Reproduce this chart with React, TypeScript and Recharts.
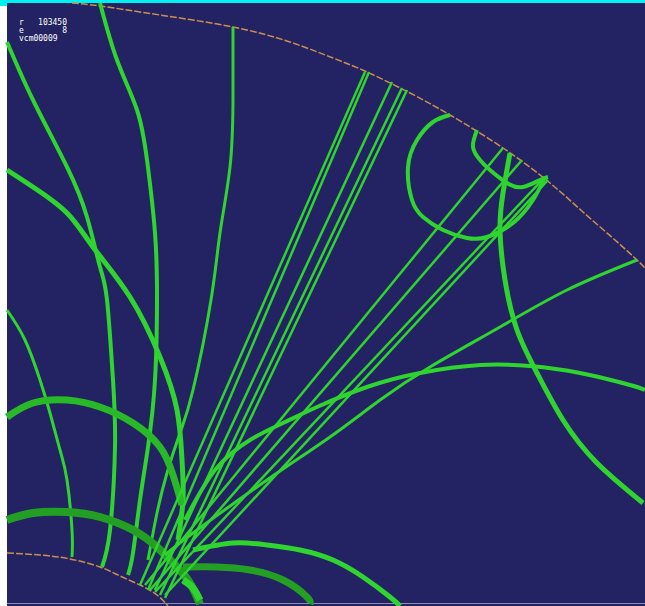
import React from 'react';
import { LineChart, Line, XAxis, YAxis } from 'recharts';

type Pt = { x: number; y: number };

// event header
const headerLines: string[][] = [
  ['r', '103450'],
  ['e', '8'],
  ['vcm00009', ''],
];

// detector boundaries (screen units, y grows downward)
const outerBoundary: Pt[] = [
  { x: 72, y: 3 }, { x: 100, y: 6 }, { x: 160, y: 15 }, { x: 233, y: 27 },
  { x: 290, y: 42 }, { x: 333, y: 58 }, { x: 367, y: 72 }, { x: 410, y: 93 },
  { x: 450, y: 115 }, { x: 503, y: 148 }, { x: 550, y: 183 }, { x: 583, y: 212 },
  { x: 615, y: 240 }, { x: 637, y: 260 }, { x: 645, y: 268 },
];
const innerBoundary: Pt[] = [
  { x: 7, y: 553 }, { x: 40, y: 555 }, { x: 70, y: 559 }, { x: 100, y: 567 },
  { x: 120, y: 576 }, { x: 140, y: 585 }, { x: 157, y: 595 }, { x: 168, y: 606 },
];

// curved tracks
const trackA: Pt[] = [
  { x: 7, y: 42 }, { x: 33, y: 100 }, { x: 67, y: 167 }, { x: 87, y: 217 },
  { x: 100, y: 267 }, { x: 107, y: 300 }, { x: 113, y: 380 }, { x: 115, y: 447 },
  { x: 110, y: 530 }, { x: 102, y: 567 },
];
const trackB: Pt[] = [
  { x: 7, y: 170 }, { x: 33, y: 187 }, { x: 67, y: 213 }, { x: 93, y: 247 },
  { x: 130, y: 297 }, { x: 160, y: 357 }, { x: 177, y: 410 }, { x: 182, y: 460 },
  { x: 183, y: 500 }, { x: 178, y: 540 },
];
const trackC: Pt[] = [
  { x: 100, y: 3 }, { x: 117, y: 60 }, { x: 137, y: 110 }, { x: 147, y: 160 },
  { x: 155, y: 233 }, { x: 157, y: 300 }, { x: 155, y: 380 }, { x: 148, y: 447 },
  { x: 140, y: 500 }, { x: 133, y: 553 }, { x: 128, y: 575 },
];
const trackD: Pt[] = [
  { x: 233, y: 27 }, { x: 233, y: 100 }, { x: 230, y: 167 }, { x: 220, y: 233 },
  { x: 211, y: 300 }, { x: 193, y: 390 }, { x: 180, y: 433 }, { x: 167, y: 473 },
  { x: 157, y: 513 }, { x: 148, y: 560 },
];
const trackE: Pt[] = [
  { x: 7, y: 310 }, { x: 25, y: 340 }, { x: 40, y: 380 }, { x: 50, y: 413 },
  { x: 60, y: 450 }, { x: 67, y: 480 }, { x: 72, y: 530 }, { x: 72, y: 557 },
];
const arcUpper: Pt[] = [
  { x: 7, y: 417 }, { x: 33, y: 403 }, { x: 67, y: 400 }, { x: 100, y: 407 },
  { x: 133, y: 423 }, { x: 160, y: 447 }, { x: 173, y: 475 }, { x: 182, y: 505 },
];
const arcLower: Pt[] = [
  { x: 7, y: 520 }, { x: 33, y: 513 }, { x: 67, y: 512 }, { x: 100, y: 517 },
  { x: 133, y: 530 }, { x: 157, y: 547 }, { x: 177, y: 567 }, { x: 190, y: 583 },
  { x: 200, y: 604 },
];
const arcWide: Pt[] = [
  { x: 185, y: 520 }, { x: 215, y: 470 }, { x: 250, y: 440 }, { x: 283, y: 423 },
  { x: 317, y: 407 }, { x: 367, y: 387 }, { x: 420, y: 373 }, { x: 480, y: 365 },
  { x: 530, y: 366 }, { x: 580, y: 373 }, { x: 630, y: 385 }, { x: 645, y: 390 },
];
const trackDown: Pt[] = [
  { x: 510, y: 153 }, { x: 503, y: 193 }, { x: 500, y: 230 }, { x: 505, y: 280 },
  { x: 517, y: 330 }, { x: 537, y: 373 }, { x: 563, y: 420 }, { x: 597, y: 463 },
  { x: 643, y: 503 },
];
const loopBig: Pt[] = [
  { x: 450, y: 115 }, { x: 433, y: 122 }, { x: 417, y: 140 }, { x: 408, y: 167 },
  { x: 412, y: 200 }, { x: 423, y: 217 }, { x: 443, y: 230 }, { x: 467, y: 238 },
  { x: 487, y: 237 }, { x: 513, y: 223 }, { x: 533, y: 200 }, { x: 545, y: 177 },
];
const loopSmall: Pt[] = [
  { x: 477, y: 130 }, { x: 473, y: 147 }, { x: 480, y: 160 }, { x: 490, y: 170 },
  { x: 507, y: 183 }, { x: 523, y: 187 }, { x: 540, y: 180 }, { x: 548, y: 177 },
];
const arcFloorA: Pt[] = [
  { x: 193, y: 550 }, { x: 233, y: 543 }, { x: 267, y: 545 }, { x: 300, y: 550 },
  { x: 333, y: 560 }, { x: 363, y: 577 }, { x: 390, y: 597 }, { x: 400, y: 606 },
];
const arcFloorB: Pt[] = [
  { x: 183, y: 567 }, { x: 217, y: 567 }, { x: 250, y: 570 }, { x: 283, y: 580 },
  { x: 307, y: 597 }, { x: 310, y: 604 },
];
const arcFloorC: Pt[] = [
  { x: 183, y: 580 }, { x: 193, y: 588 }, { x: 200, y: 600 },
];
const farRight: Pt[] = [
  { x: 637, y: 260 }, { x: 567, y: 290 }, { x: 500, y: 327 }, { x: 430, y: 367 },
  { x: 380, y: 400 }, { x: 330, y: 437 }, { x: 267, y: 480 }, { x: 193, y: 533 },
  { x: 165, y: 555 },
];

// stiff tracks from the vertex
const fanLines: Pt[][] = [
  [{ x: 365, y: 72 }, { x: 140, y: 585 }],
  [{ x: 369, y: 72 }, { x: 148, y: 590 }],
  [{ x: 392, y: 82 }, { x: 155, y: 590 }],
  [{ x: 402, y: 88 }, { x: 160, y: 595 }],
  [{ x: 407, y: 90 }, { x: 165, y: 598 }],
  [{ x: 503, y: 148 }, { x: 145, y: 585 }],
  [{ x: 522, y: 160 }, { x: 150, y: 590 }],
  [{ x: 545, y: 177 }, { x: 155, y: 592 }],
  [{ x: 548, y: 180 }, { x: 165, y: 595 }],
];

const GREEN = '#2fd42f';
const MID = '#28b828';
const DARK = '#23a023';
const ORANGE = '#c98f4e';
const NAVY = '#232262';

const curved: { data: Pt[]; w: number; c: string }[] = [
  { data: trackA, w: 4, c: GREEN },
  { data: trackB, w: 5, c: GREEN },
  { data: trackC, w: 4, c: GREEN },
  { data: trackD, w: 3, c: GREEN },
  { data: trackE, w: 3, c: GREEN },
  { data: arcUpper, w: 7, c: MID },
  { data: arcLower, w: 8, c: DARK },
  { data: arcWide, w: 4, c: GREEN },
  { data: trackDown, w: 5, c: GREEN },
  { data: loopBig, w: 4, c: GREEN },
  { data: loopSmall, w: 4, c: GREEN },
  { data: arcFloorA, w: 5, c: GREEN },
  { data: arcFloorB, w: 7, c: DARK },
  { data: arcFloorC, w: 7, c: GREEN },
  { data: farRight, w: 3, c: GREEN },
];

export default function App() {
  return (
    <div style={{ position: 'fixed', left: 0, top: 0, width: 645, height: 606, background: '#fff', overflow: 'hidden' }}>
      <div style={{ position: 'absolute', left: 0, top: 0, width: 645, height: 3, background: '#00f0f0' }} />
      <div style={{ position: 'absolute', left: 0, top: 0, width: 7, height: 6, background: '#00f0f0' }} />
      <div style={{ position: 'absolute', left: 7, top: 3, width: 638, height: 603, background: NAVY }} />
      <div style={{ position: 'absolute', left: 7, top: 603, width: 638, height: 1, background: '#8c8cb0' }} />
      <div style={{ position: 'absolute', left: 0, top: 0 }}>
        <LineChart width={645} height={606} margin={{ top: 0, right: 0, bottom: 0, left: 0 }}>
          <XAxis type="number" dataKey="x" domain={[0, 645]} hide allowDataOverflow />
          <YAxis type="number" dataKey="y" domain={[0, 606]} reversed hide allowDataOverflow />
          <Line data={outerBoundary} dataKey="y" type="natural" stroke={ORANGE} strokeWidth={1.5}
            strokeDasharray="7 2" dot={false} activeDot={false} isAnimationActive={false} />
          <Line data={innerBoundary} dataKey="y" type="natural" stroke={ORANGE} strokeWidth={1.5}
            strokeDasharray="7 2" dot={false} activeDot={false} isAnimationActive={false} />
          {curved.map((t, i) => (
            <Line key={'c' + i} data={t.data} dataKey="y" type="natural" stroke={t.c}
              strokeWidth={t.w} dot={false} activeDot={false} isAnimationActive={false} />
          ))}
          {fanLines.map((d, i) => (
            <Line key={'f' + i} data={d} dataKey="y" type="linear" stroke={GREEN}
              strokeWidth={2.5} dot={false} activeDot={false} isAnimationActive={false} />
          ))}
        </LineChart>
      </div>
      <div style={{ position: 'absolute', left: 19, top: 19, color: '#fff', fontFamily: '"DejaVu Sans Mono", monospace', fontSize: 8, lineHeight: '8px' }}>
        {headerLines.map((row, i) => (
          <div key={i} style={{ display: 'flex', width: 48, justifyContent: 'space-between' }}>
            <span>{row[0]}</span>
            <span>{row[1]}</span>
          </div>
        ))}
      </div>
    </div>
  );
}
